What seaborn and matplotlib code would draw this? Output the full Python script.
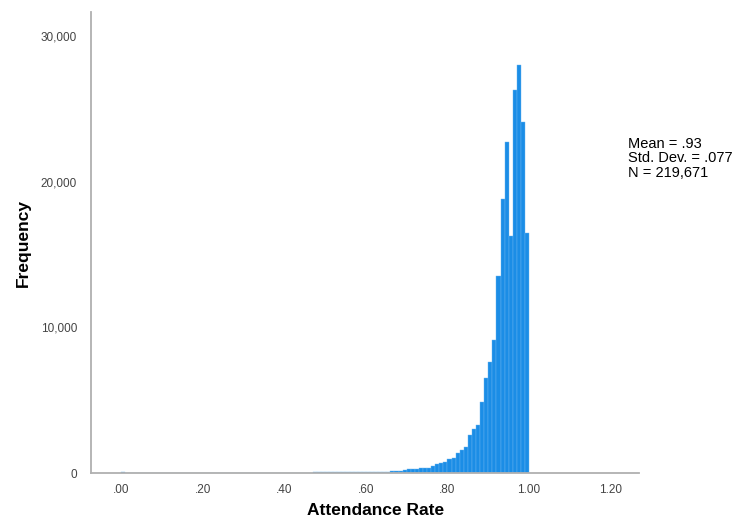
import numpy as np
import pandas as pd
import seaborn as sns
import matplotlib.pyplot as plt
from matplotlib.ticker import FuncFormatter

# histogram bins of width .01 from .00 to 1.00, counts
bin_start = np.round(np.arange(0, 1.0, 0.01), 2)
counts = [
    60, 15, 10, 10, 10, 12, 12, 12, 12, 12,          # .00-.09
    12, 12, 12, 12, 14, 14, 14, 15, 15, 15,          # .10-.19
    15, 16, 16, 16, 17, 17, 18, 18, 18, 19,          # .20-.29
    20, 20, 21, 22, 22, 23, 24, 25, 26, 27,          # .30-.39
    28, 30, 31, 32, 33, 35, 36, 38, 40, 42,          # .40-.49
    44, 46, 48, 50, 53, 55, 60, 65, 70, 80,          # .50-.59
    85, 90, 95, 100, 100, 100, 130, 150, 160, 220,   # .60-.69
    250, 250, 300, 370, 370, 370, 500, 600, 660, 780,  # .70-.79
    950, 1000, 1350, 1600, 1800, 2600, 3050, 3300, 4900, 6500,  # .80-.89
    7600, 9100, 13500, 18800, 22700, 16300, 26300, 28000, 24100, 16500,  # .90-.99
]
stats_text = "Mean = .93\nStd. Dev. = .077\nN = 219,671"

df = pd.DataFrame({'rate': bin_start + 0.005, 'count': counts})

plt.rcParams['font.family'] = ['Liberation Sans', 'DejaVu Sans']
fig = plt.figure(figsize=(7.39, 5.25), dpi=100)
ax = fig.add_axes([0.123, 0.099, 0.742, 0.878])

sns.histplot(
    data=df,
    x='rate',
    weights='count',
    binwidth=0.01,
    binrange=(0, 1),
    color='#1b8de6',
    alpha=1,
    edgecolor='#6ab6f0',
    linewidth=0.3,
    ax=ax,
)

ax.set_xlim(-0.074, 1.27)
ax.set_ylim(0, 31650)
ax.set_xticks([0, 0.2, 0.4, 0.6, 0.8, 1.0, 1.2])
ax.xaxis.set_major_formatter(FuncFormatter(lambda v, p: f'{v:.2f}'.lstrip('0') if v < 1 else f'{v:.2f}'))
ax.set_yticks([0, 10000, 20000, 30000])
ax.yaxis.set_major_formatter(FuncFormatter(lambda v, p: f'{int(v):,}'))
ax.tick_params(length=0, labelsize=8.5, labelcolor='#444444')
ax.tick_params(axis='x', pad=8)
ax.tick_params(axis='y', pad=10)

for s in ['top', 'right']:
    ax.spines[s].set_visible(False)
for s in ['left', 'bottom']:
    ax.spines[s].set_color('#b0b0b0')
    ax.spines[s].set_linewidth(1.3)

ax.set_xlabel('Attendance Rate', fontsize=12.5, fontweight='bold')
ax.set_ylabel('Frequency', fontsize=12.5, fontweight='bold')
ax.xaxis.set_label_coords(0.52, -0.064)
ax.yaxis.set_label_coords(-0.11, 0.5)

fig.text(0.85, 0.74, stats_text, fontsize=10.5, va='top', ha='left', linespacing=1.05)

fig.savefig('out.png', dpi=100)
